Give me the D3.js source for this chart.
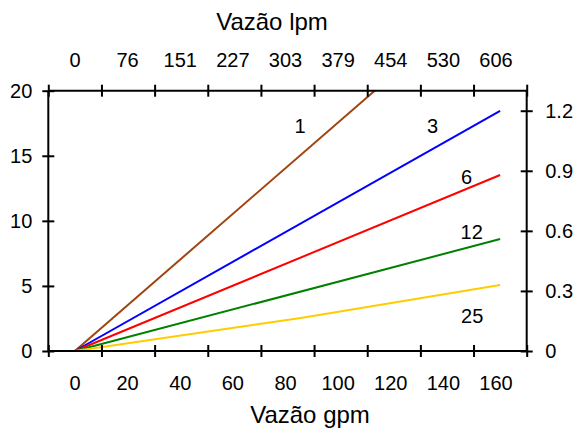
<!DOCTYPE html>
<html><head><meta charset="utf-8">
<script src="https://cdn.jsdelivr.net/npm/d3@7"></script>
<style>body{margin:0;background:#fff;} text{font-family:"Liberation Sans",Arial,sans-serif;fill:#000;}</style>
</head><body><svg id="c" width="574" height="437"></svg>
<script>
// ---- data ----
const gpmLabels = [0, 20, 40, 60, 80, 100, 120, 140, 160];
const lpmLabels = ["0", "76", "151", "227", "303", "379", "454", "530", "606"];
const xTickMarks = [-10, 10, 30, 50, 70, 90, 110, 130, 150, 170];
const leftTicks = [0, 5, 10, 15, 20];
const rightTicks = [0, 0.3, 0.6, 0.9, 1.2];
const seriesNames = ["1", "3", "6", "12", "25"];
const seriesColors = ["#a0450f", "#0000ff", "#ff0000", "#008000", "#ffcc00"];
const series1 = [[0, 0], [112.8, 20]];
const series3 = [[0, 0], [160, 18.45]];
const series6 = [[0, 0], [160, 13.52]];
const series12 = [[0, 0], [160, 8.6]];
const series25 = [[0, 0], [85, 2.54], [160, 5.07]];
const labelAt = [[84.7, 17.3], [134.6, 17.3], [147.4, 13.35], [149.3, 9.17], [149.5, 2.69]];
const xTitleBottom = "Vazão gpm";
const xTitleTop = "Vazão lpm";

// ---- layout ----
const L = 48.3, R = 526.7, T = 90.7, B = 351;
const FS = 20;
const svg = d3.select("#c");
const x = d3.scaleLinear().domain([-10, 170]).range([L, R]);
// tick-label placement scale (labels in the source drift slightly left of the data scale)
const xLab = d3.scaleLinear().domain([0, 160]).range([74.5, 495.5]);
const yL = d3.scaleLinear().domain([0, 20]).range([B, T]);
const yR = d3.scaleLinear().domain([0, 1.3]).range([B, T]);

const allSeries = [series1, series3, series6, series12, series25];
const line = d3.line().x(d => x(d[0])).y(d => yL(d[1]));
const g = svg.append("g");
allSeries.forEach((s, i) => {
  g.append("path").attr("d", line(s)).attr("fill", "none")
    .attr("stroke", seriesColors[i]).attr("stroke-width", 2);
});
seriesNames.forEach((n, i) => {
  g.append("text").attr("x", x(labelAt[i][0])).attr("y", yL(labelAt[i][1]))
    .attr("dy", "0.35em").attr("text-anchor", "middle").attr("font-size", FS).text(n);
});

function styleTicks(sel, horiz) {
  sel.select(".domain").remove();
  sel.selectAll(".tick line").attr("stroke", "#000").attr("stroke-width", 2);
  if (horiz) sel.selectAll(".tick line").attr("y1", -6).attr("y2", 6);
  else sel.selectAll(".tick line").attr("x1", -6).attr("x2", 6);
}
function styleText(sel) {
  sel.selectAll("text").attr("font-size", FS)
    .attr("font-family", "Liberation Sans, Arial, sans-serif").attr("fill", "#000");
}
// axis lines
const frame = svg.append("g").attr("stroke", "#000").attr("stroke-width", 2);
frame.append("line").attr("x1", L).attr("x2", R).attr("y1", B).attr("y2", B);
frame.append("line").attr("x1", L).attr("x2", R).attr("y1", T).attr("y2", T);
frame.append("line").attr("x1", L).attr("x2", L).attr("y1", T).attr("y2", B);
frame.append("line").attr("x1", R).attr("x2", R).attr("y1", T).attr("y2", B);

// tick marks
const bt = svg.append("g").attr("transform", `translate(0,${B})`)
  .call(d3.axisBottom(x).tickValues(xTickMarks).tickFormat(""));
styleTicks(bt, true);
const tt = svg.append("g").attr("transform", `translate(0,${T})`)
  .call(d3.axisTop(x).tickValues(xTickMarks).tickFormat(""));
styleTicks(tt, true);
const lt = svg.append("g").attr("transform", `translate(${L},0)`)
  .call(d3.axisLeft(yL).tickValues(leftTicks).tickFormat(d3.format("d")).tickPadding(10));
styleTicks(lt, false); styleText(lt);
const rt = svg.append("g").attr("transform", `translate(${R},0)`)
  .call(d3.axisRight(yR).tickValues(rightTicks).tickFormat(d => d === 0 ? "0" : d3.format(".1f")(d)).tickPadding(12.5));
styleTicks(rt, false); styleText(rt);

// x tick labels
const bl = svg.append("g").attr("transform", `translate(0,${B})`)
  .call(d3.axisBottom(xLab).tickValues(gpmLabels).tickSize(0).tickPadding(25));
bl.select(".domain").remove(); styleText(bl);
const tl = svg.append("g").attr("transform", `translate(0,${T})`)
  .call(d3.axisTop(xLab).tickValues(gpmLabels).tickFormat((d, i) => lpmLabels[i]).tickSize(0).tickPadding(24));
tl.select(".domain").remove(); styleText(tl);

// titles
svg.append("text").attr("x", 310).attr("y", 423).attr("text-anchor", "middle")
  .attr("font-size", 24).text(xTitleBottom);
svg.append("text").attr("x", 272).attr("y", 30).attr("text-anchor", "middle")
  .attr("font-size", 24).text(xTitleTop);
</script></body></html>
